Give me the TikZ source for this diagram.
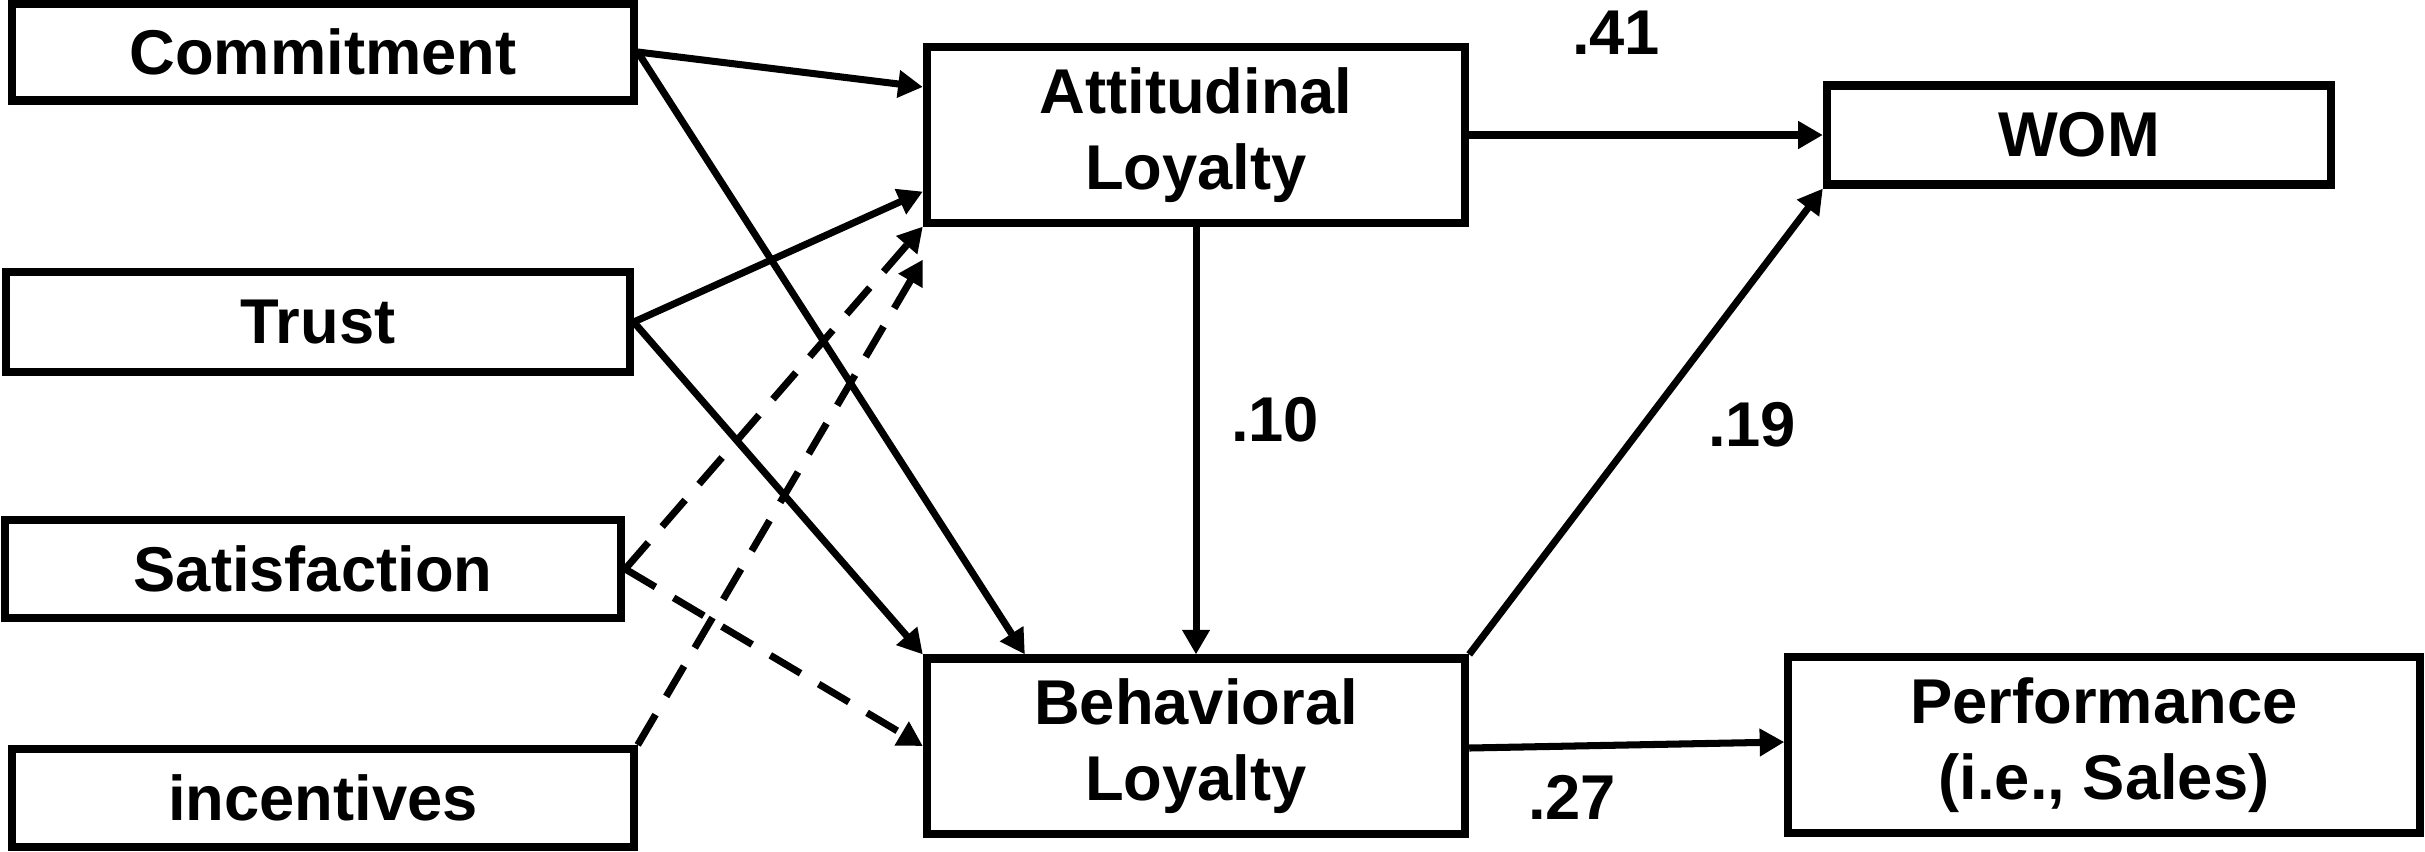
\documentclass[tikz,border=0pt]{standalone}
\usepackage{fontspec}
\setmainfont{Liberation Sans}
\usetikzlibrary{arrows.meta}
\begin{document}
\begin{tikzpicture}[x=0.01cm,y=-0.01cm,
  box/.style={draw,line width=2.3pt,inner sep=0pt,align=center,font=\fontsize{18}{21.6}\selectfont\bfseries},
  lbl/.style={inner sep=0pt,font=\fontsize{18}{21.6}\selectfont\bfseries},
  arr/.style={line width=2pt,-{Triangle[length=7pt,width=7.5pt]}},
  darr/.style={arr,dash pattern=on 10pt off 6pt}]
\useasboundingbox (0,0) rectangle (2425,851);
% boxes
\node[box,minimum width=6.21cm,minimum height=0.97cm] (com) at (323,52) {Commitment};
\node[box,minimum width=6.23cm,minimum height=1.00cm] (tru) at (318,322) {Trust};
\node[box,minimum width=6.16cm,minimum height=0.98cm] (sat) at (313,569) {Satisfaction};
\node[box,minimum width=6.21cm,minimum height=0.98cm] (inc) at (323,798) {incentives};
\node[box,minimum width=5.38cm,minimum height=1.75cm] (att) at (1196,135) {Attitudinal\\Loyalty};
\node[box,minimum width=5.38cm,minimum height=1.75cm] (beh) at (1196,746) {Behavioral\\Loyalty};
\node[box,minimum width=5.04cm,minimum height=0.99cm] (wom) at (2079,135) {WOM};
\node[box,minimum width=6.31cm,minimum height=1.76cm] (per) at (2104,745) {Performance\\(i.e., Sales)};
% labels
\node[lbl] (l41) at (1616,33) {.41};
\node[lbl] (l10) at (1275,420) {.10};
\node[lbl] (l19) at (1752,425) {.19};
\node[lbl] (l27) at (1572,797) {.27};
% free end
\coordinate (incend) at ([yshift=-0.33cm]att.south west);
% connectors
\draw[arr] (com.east) -- ([yshift=0.48cm]att.west);
\draw[arr] (com.east) -- ([xshift=1.02cm]beh.north west);
\draw[arr] (tru.east) -- ([yshift=0.35cm]att.south west);
\draw[arr] (tru.east) -- (beh.north west);
\draw[darr] (sat.east) -- (att.south west);
\draw[darr] (sat.east) -- (beh.west);
\draw[darr] (inc.north east) -- (incend);
\draw[arr] (att.east) -- (wom.west);
\draw[arr] (att.south) -- (beh.north);
\draw[arr] (beh.north east) -- (wom.south west);
\draw[arr] ([yshift=-0.02cm]beh.east) -- ([yshift=0.03cm]per.west);
\end{tikzpicture}
\end{document}
